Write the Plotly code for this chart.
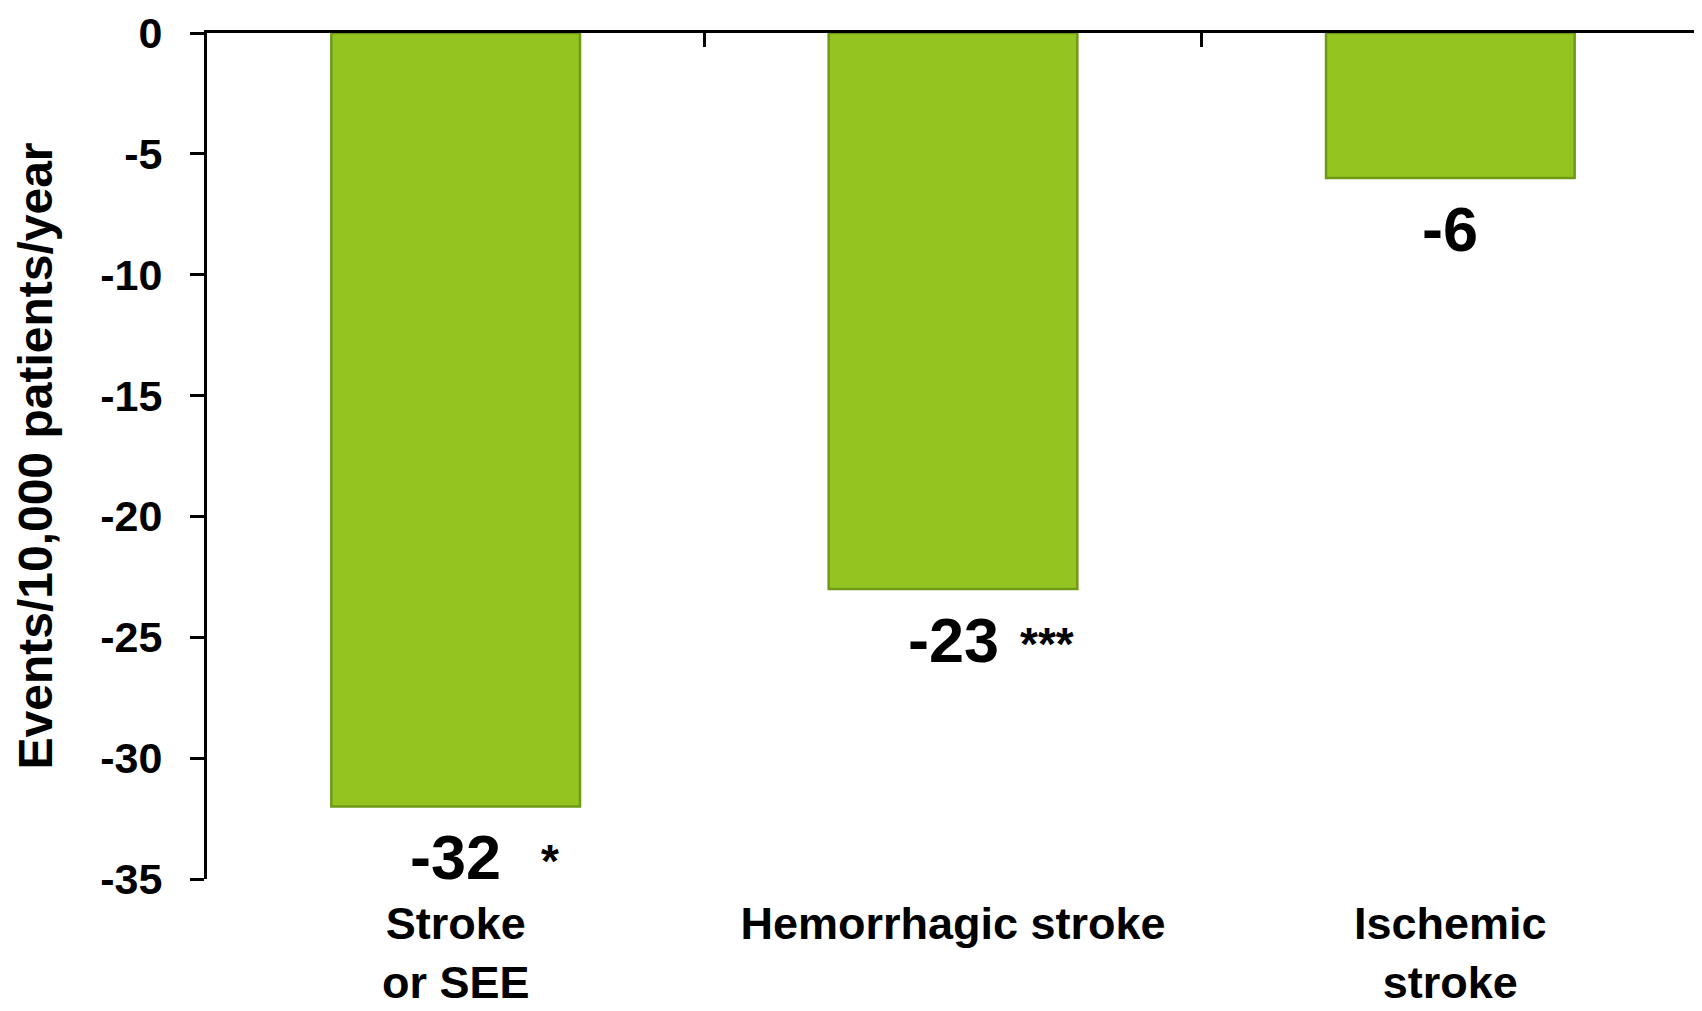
import plotly.graph_objects as go

categories = ["Stroke or SEE", "Hemorrhagic stroke", "Ischemic stroke"]
tick_labels = ["Stroke<br>or SEE", "Hemorrhagic stroke", "Ischemic<br>stroke"]
values = [-32, -23, -6]
significance = ["*", "***", ""]
y_ticks = [0, -5, -10, -15, -20, -25, -30, -35]
boundaries = [0.5, 1.5, 2.5]

FONT = "Liberation Sans, Arial, sans-serif"
BAR = "#93C41F"
EDGE = "#6F9A16"

fig = go.Figure()
fig.add_trace(go.Bar(
    x=categories, y=values, width=0.5,
    marker=dict(color=BAR, line=dict(color=EDGE, width=2.5)),
    hoverinfo="skip", showlegend=False,
))
# invisible trace to realise the top axis (zero line with category separators)
fig.add_trace(go.Scatter(x=[], y=[], xaxis="x2", yaxis="y", showlegend=False, hoverinfo="skip"))

for cat, v, sig in zip(categories, values, significance):
    fig.add_annotation(
        x=cat, y=v, text=f"{v}", showarrow=False, yanchor="middle",
        yshift=-51, font=dict(family=FONT, size=63, color="black", weight="bold"),
    )
    if sig:
        fig.add_annotation(
            x=cat, y=v, text=sig, showarrow=False, yanchor="middle", xanchor="center",
            xshift=94, yshift=-55, font=dict(family=FONT, size=46, color="black", weight="bold"),
        )

fig.update_layout(
    width=1702, height=1011,
    margin=dict(l=199, r=11, t=25, b=140),
    paper_bgcolor="white", plot_bgcolor="white",
    bargap=0.5,
    xaxis=dict(
        type="category", tickvals=categories, ticktext=tick_labels,
        showline=False, showgrid=False, zeroline=False, ticks="",
        ticklabelstandoff=14, automargin=False,
        tickfont=dict(family=FONT, size=45, color="black", weight="bold"),
        range=[-0.5, 2.5],
    ),
    xaxis2=dict(
        overlaying="x", side="top", anchor="y", range=[-0.5, 2.5],
        showline=True, linecolor="black", linewidth=3,
        ticks="inside", ticklen=14, tickwidth=3, tickcolor="black",
        tickvals=boundaries, showticklabels=False, automargin=False,
        showgrid=False, zeroline=False,
    ),
    yaxis=dict(
        range=[-35, 0], tickvals=y_ticks, ticktext=[str(t) for t in y_ticks],
        showline=True, linecolor="black", linewidth=3,
        ticks="outside", ticklen=14, tickwidth=3, tickcolor="black",
        ticklabelstandoff=19, automargin=False, ticklabeloverflow="allow",
        showgrid=False, zeroline=False,
        tickfont=dict(family=FONT, size=43, color="black", weight="bold"),
        title=dict(text="Events/10,000 patients/year", standoff=33,
                   font=dict(family=FONT, size=48, color="black", weight="bold")),
    ),
)

fig.write_html("out.html")
